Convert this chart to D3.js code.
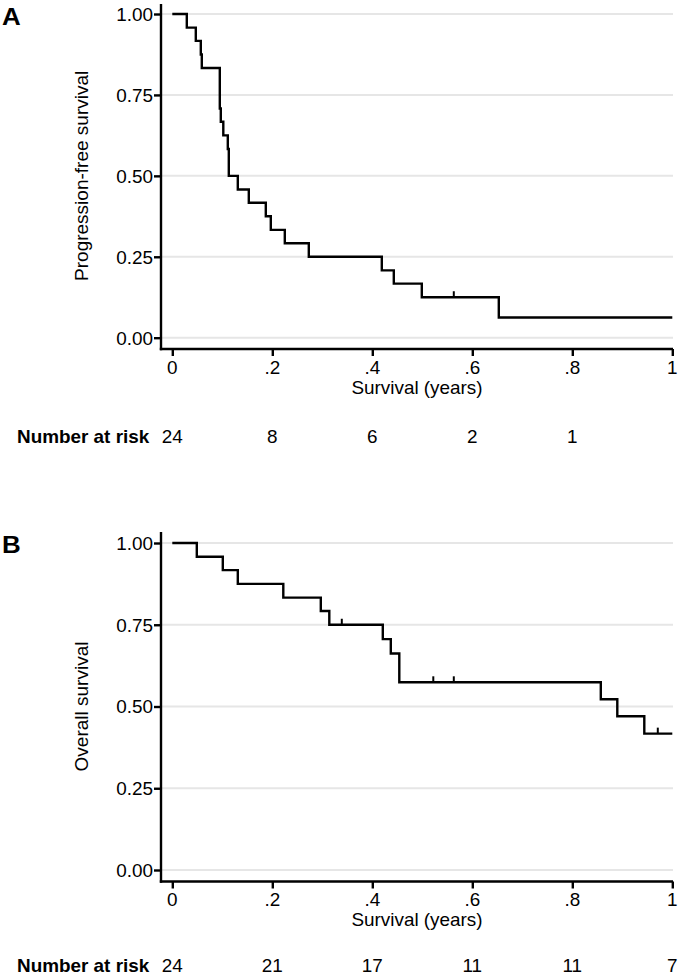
<!DOCTYPE html>
<html>
<head>
<meta charset="utf-8">
<script src="https://cdn.jsdelivr.net/npm/d3@7"></script>
<style>
  html, body { margin: 0; padding: 0; background: #fff; }
  svg text { font-family: "Liberation Sans", Arial, sans-serif; fill: #000; }
</style>
</head>
<body>
<div id="chart"></div>
<script>
// ---------------- DATA ----------------
const xTicks = [0, 0.2, 0.4, 0.6, 0.8, 1];
const xTickLabels = ["0", ".2", ".4", ".6", ".8", "1"];
const yTicks = [0, 0.25, 0.5, 0.75, 1];
const yTickLabels = ["0.00", "0.25", "0.50", "0.75", "1.00"];

// Panel A: progression-free survival (step times and survival after each step)
const pfsTime = [0, 0.029, 0.047, 0.057, 0.059, 0.095, 0.097, 0.102, 0.111, 0.113, 0.131, 0.153, 0.187, 0.197, 0.225, 0.273, 0.419, 0.443, 0.499, 0.653];
const pfsSurv = [1, 0.958, 0.917, 0.875, 0.833, 0.708, 0.667, 0.625, 0.583, 0.5, 0.458, 0.417, 0.375, 0.333, 0.292, 0.25, 0.208, 0.167, 0.125, 0.0625];
const pfsEnd = 1.0;
const pfsCensor = [0.563];
const pfsRiskTimes = [0, 0.2, 0.4, 0.6, 0.8];
const pfsRisk = [24, 8, 6, 2, 1];

// Panel B: overall survival
const osTime = [0, 0.049, 0.101, 0.131, 0.222, 0.297, 0.314, 0.421, 0.437, 0.454, 0.857, 0.890, 0.944];
const osSurv = [1, 0.958, 0.917, 0.875, 0.833, 0.792, 0.75, 0.706, 0.662, 0.574, 0.522, 0.470, 0.417];
const osEnd = 1.0;
const osCensor = [0.339, 0.522, 0.563, 0.971];
const osRiskTimes = [0, 0.2, 0.4, 0.6, 0.8, 1];
const osRisk = [24, 21, 17, 11, 11, 7];

const xTitle = "Survival (years)";
const riskLabel = "Number at risk";

// ---------------- LAYOUT ----------------
const W = 685, H = 980;
const SX = 1.08;           // horizontal stretch of horizontal text
const FS = 17.5;           // base font size
const LW = 2.4;            // line width
const svg = d3.select("#chart").append("svg")
  .attr("width", W).attr("height", H);

const x = d3.scaleLinear().domain([0, 1]).range([172.3, 672.3]);

const panels = [
  { label: "A", labelY: 25, yTitle: "Progression-free survival",
    yRange: [337.7, 14], axisTop: 4, axisY: 349,
    tickBase: 374, titleBase: 393.5, riskBase: 443,
    time: pfsTime, surv: pfsSurv, end: pfsEnd, censor: pfsCensor,
    riskTimes: pfsRiskTimes, risk: pfsRisk },
  { label: "B", labelY: 553, yTitle: "Overall survival",
    yRange: [870, 543], axisTop: 532, axisY: 881.5,
    tickBase: 906, titleBase: 925.5, riskBase: 972,
    time: osTime, surv: osSurv, end: osEnd, censor: osCensor,
    riskTimes: osRiskTimes, risk: osRisk }
];

const axisX0 = 161;   // y-axis line position
const axisX1 = 673;   // end of x-axis line

function htext(g, px, py, str, opts = {}) {
  return g.append("text")
    .attr("transform", `translate(${px},${py}) scale(${SX},1)`)
    .attr("text-anchor", opts.anchor || "start")
    .style("font-size", (opts.size || FS) + "px")
    .style("font-weight", opts.bold ? "bold" : "normal")
    .text(str);
}

panels.forEach(p => {
  const g = svg.append("g");
  const y = d3.scaleLinear().domain([0, 1]).range(p.yRange);

  // gridlines
  g.append("g").selectAll("line").data(yTicks).join("line")
    .attr("x1", axisX0 + 1).attr("x2", axisX1)
    .attr("y1", d => y(d)).attr("y2", d => y(d))
    .attr("stroke", "#e6e6e6").attr("stroke-width", 2);

  // y axis (ticks via d3 axis)
  const yAxis = d3.axisLeft(y).tickValues(yTicks).tickSize(7).tickSizeOuter(0)
    .tickFormat((d, i) => yTickLabels[i]).tickPadding(0.5);
  const ya = g.append("g").attr("transform", `translate(${axisX0},0)`).call(yAxis);
  ya.select(".domain").remove();
  ya.selectAll(".tick line").attr("stroke", "#000").attr("stroke-width", LW);
  ya.selectAll(".tick text")
    .attr("transform", `scale(${SX},1)`)
    .style("font-size", FS + "px")
    .attr("dy", "0.36em");

  // x axis
  const xAxis = d3.axisBottom(x).tickValues(xTicks).tickSize(7).tickSizeOuter(0)
    .tickFormat(() => "");
  const xa = g.append("g").attr("transform", `translate(0,${p.axisY})`).call(xAxis);
  xa.select(".domain").remove();
  xa.selectAll(".tick line").attr("stroke", "#000").attr("stroke-width", LW);
  xTicks.forEach((t, i) => htext(g, x(t), p.tickBase, xTickLabels[i], { anchor: "middle" }));

  // axis lines
  g.append("line").attr("x1", axisX0).attr("x2", axisX0)
    .attr("y1", p.axisTop).attr("y2", p.axisY + 1.2)
    .attr("stroke", "#000").attr("stroke-width", LW);
  g.append("line").attr("x1", axisX0 - 1.2).attr("x2", axisX1)
    .attr("y1", p.axisY).attr("y2", p.axisY)
    .attr("stroke", "#000").attr("stroke-width", LW);

  // titles
  htext(g, (axisX0 + axisX1) / 2, p.titleBase, xTitle, { anchor: "middle" });
  g.append("text")
    .attr("transform", `translate(88,${(p.yRange[0] + p.yRange[1]) / 2}) rotate(-90)`)
    .attr("text-anchor", "middle")
    .style("font-size", "19px")
    .text(p.yTitle);

  // panel letter
  htext(g, 2, p.labelY, p.label, { size: 24, bold: true });

  // survival step curve
  const pts = p.time.map((t, i) => [t, p.surv[i]]);
  pts.push([p.end, p.surv[p.surv.length - 1]]);
  const line = d3.line().x(d => x(d[0])).y(d => y(d[1])).curve(d3.curveStepAfter);
  g.append("path").attr("d", line(pts))
    .attr("fill", "none").attr("stroke", "#000").attr("stroke-width", LW)
    .attr("stroke-linejoin", "miter").attr("stroke-linecap", "butt");

  // censor marks
  const survAt = t => {
    let s = 1;
    p.time.forEach((tt, i) => { if (tt <= t) s = p.surv[i]; });
    return s;
  };
  g.append("g").selectAll("line").data(p.censor).join("line")
    .attr("x1", d => x(d)).attr("x2", d => x(d))
    .attr("y1", d => y(survAt(d))).attr("y2", d => y(survAt(d)) - 6)
    .attr("stroke", "#000").attr("stroke-width", 2);

  // number at risk
  htext(g, 17, p.riskBase, riskLabel, { bold: true });
  p.riskTimes.forEach((t, i) => htext(g, x(t), p.riskBase, String(p.risk[i]), { anchor: "middle" }));
});
</script>
</body>
</html>
